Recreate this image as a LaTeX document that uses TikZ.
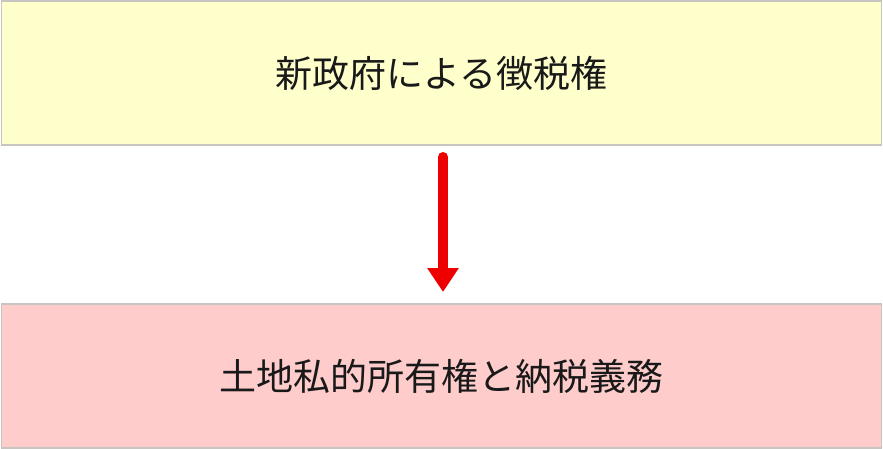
\documentclass[tikz,border=0pt]{standalone}
\usepackage{fontspec}
\newfontfamily\cjk{Noto Sans CJK JP}
\usetikzlibrary{arrows.meta}
\definecolor{boxyellow}{HTML}{FFFFCC}
\definecolor{boxpink}{HTML}{FFCCCC}
\definecolor{boxline}{HTML}{C8C4C0}
\definecolor{arrowred}{HTML}{EE0000}
\tikzset{
  x=1pt, y=-1pt,
  panel/.style={draw=boxline, line width=1.5pt, minimum width=880pt, minimum height=144pt, inner sep=0pt, font=\cjk\fontsize{37}{44}\selectfont, text=black!90},
  flow/.style={draw=arrowred, line width=10pt, line cap=round, -{Triangle[length=24pt,width=30pt]}}
}
\begin{document}
\begin{tikzpicture}
\useasboundingbox (0,0) rectangle (883,449);
\fill[white] (0,0) rectangle (883,449);
\node[panel, fill=boxyellow] (top) at (441.5,73) {新政府による徴税権};
\node[panel, fill=boxpink] (bot) at (441.5,376) {土地私的所有権と納税義務};
\coordinate (s) at (443,157);
\coordinate (e) at (443,292);
\draw[flow] (s) -- (e);
\end{tikzpicture}
\end{document}
